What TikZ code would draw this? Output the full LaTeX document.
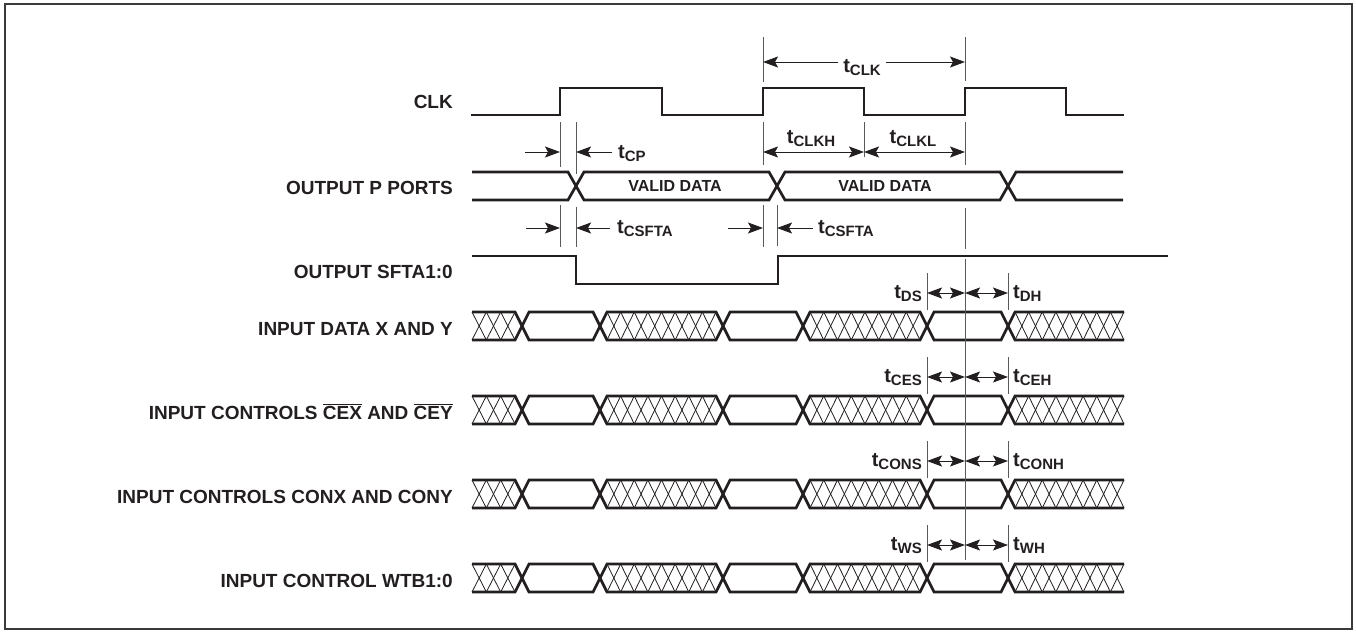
\documentclass[tikz,border=0pt]{standalone}
\usepackage{fontspec}
\setmainfont{Liberation Sans}
\usetikzlibrary{arrows.meta}
\definecolor{sig}{HTML}{231F20}
\definecolor{guide}{HTML}{58595B}
\definecolor{frame}{HTML}{3A3A3A}
\newcommand\tlab[1]{{\fontsize{20}{20}\selectfont\bfseries t}\raisebox{-3pt}{\fontsize{15}{15}\selectfont\bfseries #1}}
\newcommand\ovbar[1]{$\overline{\mbox{#1}}$}
\newcommand\hatchrun[4]{%
  \pgfmathsetmacro\hpitch{(#2-#1)/#4}%
  \foreach \k in {1,...,#4}{%
    \draw[hatchline] ({#1+(\k-1)*\hpitch},{#3-14}) -- ({#1+\k*\hpitch},{#3+14});
    \draw[hatchline] ({#1+(\k-1)*\hpitch},{#3+14}) -- ({#1+\k*\hpitch},{#3-14});
  }}
\newcommand\datarow[1]{%
  \draw[sigline] (472,#1-14) -- (515,#1-14) -- (529,#1+14) -- (593,#1+14) -- (607,#1-14) -- (716,#1-14) -- (730,#1+14) -- (796,#1+14) -- (810,#1-14) -- (920,#1-14) -- (934,#1+14) -- (1001,#1+14) -- (1015,#1-14) -- (1124,#1-14);
  \draw[sigline] (472,#1+14) -- (515,#1+14) -- (529,#1-14) -- (593,#1-14) -- (607,#1+14) -- (716,#1+14) -- (730,#1-14) -- (796,#1-14) -- (810,#1+14) -- (920,#1+14) -- (934,#1-14) -- (1001,#1-14) -- (1015,#1+14) -- (1124,#1+14);
  \hatchrun{472}{515}{#1}{3}
  \hatchrun{607}{716}{#1}{8}
  \hatchrun{810}{920}{#1}{8}
  \hatchrun{1015}{1124}{#1}{8}
}
\newcommand\setuphold[4]{%
  \coordinate (#4sa) at (927,#1-33);
  \coordinate (#4sm) at (965,#1-33);
  \coordinate (#4sb) at (1008,#1-33);
  \draw[guideline] (927,#1-53) -- (927,#1-16);
  \draw[guideline] (1008,#1-53) -- (1008,#1-16);
  \draw[dimboth] (#4sa) -- (#4sm);
  \draw[dimboth] (#4sm) -- (#4sb);
  \node[tlabel, anchor=base east] (#4setup) at (922,#1-28) {\tlab{#2}};
  \node[tlabel, anchor=base west] (#4hold) at (1013,#1-28) {\tlab{#3}};
}
\begin{document}
\begin{tikzpicture}[x=1pt,y=-1pt,
 sigline/.style={line width=2.7pt, color=sig, line join=miter},
 hatchline/.style={line width=0.8pt, color=sig},
 guideline/.style={line width=0.9pt, color=guide},
 dimarrow/.style={line width=1pt, color=sig, -{Stealth[length=15pt,width=11pt,inset=3pt]}},
 dimboth/.style={line width=1pt, color=sig, {Stealth[length=15pt,width=11pt,inset=3pt]}-{Stealth[length=15pt,width=11pt,inset=3pt]}},
 rowlabel/.style={anchor=base east, inner sep=0pt, font=\fontsize{19}{19}\selectfont\bfseries, color=sig},
 tlabel/.style={inner sep=0pt, color=sig},
 datalabel/.style={anchor=base, inner sep=0pt, font=\fontsize{16}{16}\selectfont\bfseries, color=sig}]
\useasboundingbox (0,0) rectangle (1356,632);
\draw[line width=2pt, color=frame] (4.5,3.5) rectangle (1351.5,628.5);

% row labels
\node[rowlabel] (lclk) at (453,108) {CLK};
\node[rowlabel] (lpp) at (453,194.5) {OUTPUT P PORTS};
\node[rowlabel] (lsfta) at (453,278) {OUTPUT SFTA1:0};
\node[rowlabel] (ldata) at (453,335) {INPUT DATA X AND Y};
\node[rowlabel] (lce) at (453,419) {INPUT CONTROLS \ovbar{CEX} AND \ovbar{CEY}};
\node[rowlabel] (lcon) at (453,503) {INPUT CONTROLS CONX AND CONY};
\node[rowlabel] (lwtb) at (453,587) {INPUT CONTROL WTB1:0};

% CLK
\draw[sigline] (471,115) -- (560,115) -- (560,88) -- (662,88) -- (662,115) -- (763,115) -- (763,88) -- (864,88) -- (864,115) -- (965,115) -- (965,88) -- (1066,88) -- (1066,115) -- (1124,115);

% OUTPUT P PORTS
\draw[sigline] (472,172) -- (568,172) -- (584,200) -- (769,200) -- (785,172) -- (1000,172) -- (1016,200) -- (1123,200);
\draw[sigline] (472,200) -- (568,200) -- (584,172) -- (769,172) -- (785,200) -- (1000,200) -- (1016,172) -- (1123,172);
\node[datalabel] (vd1) at (675,191.8) {VALID DATA};
\node[datalabel] (vd2) at (885,191.8) {VALID DATA};

% OUTPUT SFTA
\draw[sigline] (472,256) -- (576,256) -- (576,284) -- (778,284) -- (778,256) -- (1168,256);

% data rows
\datarow{326}
\datarow{410}
\datarow{494}
\datarow{578}

% tCLK
\draw[guideline] (763,37) -- (763,82);
\draw[guideline] (965,37) -- (965,81);
\node[tlabel, anchor=base] (tclk) at (862,72) {\tlab{CLK}};
\coordinate (clkA) at (763,62);
\coordinate (clkB) at (965,62);
\draw[dimarrow] (tclk.west |- clkA) ++(-5,0) -- (clkA);
\draw[dimarrow] (tclk.east |- clkB) ++(5,0) -- (clkB);

% tCP, tCLKH, tCLKL
\draw[guideline] (560,122) -- (560,167);
\draw[guideline] (576,122) -- (576,174);
\draw[guideline] (763,122) -- (763,165);
\draw[guideline] (864,122) -- (864,157);
\draw[guideline] (965,122) -- (965,165);
\coordinate (cpA) at (560,152);
\coordinate (cpB) at (576,152);
\draw[dimarrow] (525,152) -- (cpA);
\draw[dimarrow] (612,152) -- (cpB);
\node[tlabel, anchor=base west] (tcp) at (618,158) {\tlab{CP}};
\coordinate (hA) at (763,152);
\coordinate (hB) at (864,152);
\coordinate (hC) at (965,152);
\draw[dimboth] (hA) -- (hB);
\draw[dimboth] (hB) -- (hC);
\node[tlabel, anchor=base] (tclkh) at (811,143) {\tlab{CLKH}};
\node[tlabel, anchor=base] (tclkl) at (913,143) {\tlab{CLKL}};

% tCSFTA
\draw[guideline] (560,205) -- (560,247);
\draw[guideline] (576,207) -- (576,247);
\draw[guideline] (763,205) -- (763,247);
\draw[guideline] (777,205) -- (777,246);
\coordinate (sA) at (560,228);
\coordinate (sB) at (576,228);
\coordinate (sC) at (763,228);
\coordinate (sD) at (777,228);
\draw[dimarrow] (526,228) -- (sA);
\draw[dimarrow] (610,228) -- (sB);
\draw[dimarrow] (728,228) -- (sC);
\draw[dimarrow] (813,228) -- (sD);
\node[tlabel, anchor=base west] (tcs1) at (617,233) {\tlab{CSFTA}};
\node[tlabel, anchor=base west] (tcs2) at (818,233) {\tlab{CSFTA}};

% reference line
\draw[guideline] (965,208) -- (965,249);
\draw[guideline] (965,259) -- (965,560);

% setup / hold
\setuphold{326}{DS}{DH}{d}
\setuphold{410}{CES}{CEH}{c}
\setuphold{494}{CONS}{CONH}{n}
\setuphold{578}{WS}{WH}{w}
\end{tikzpicture}
\end{document}
